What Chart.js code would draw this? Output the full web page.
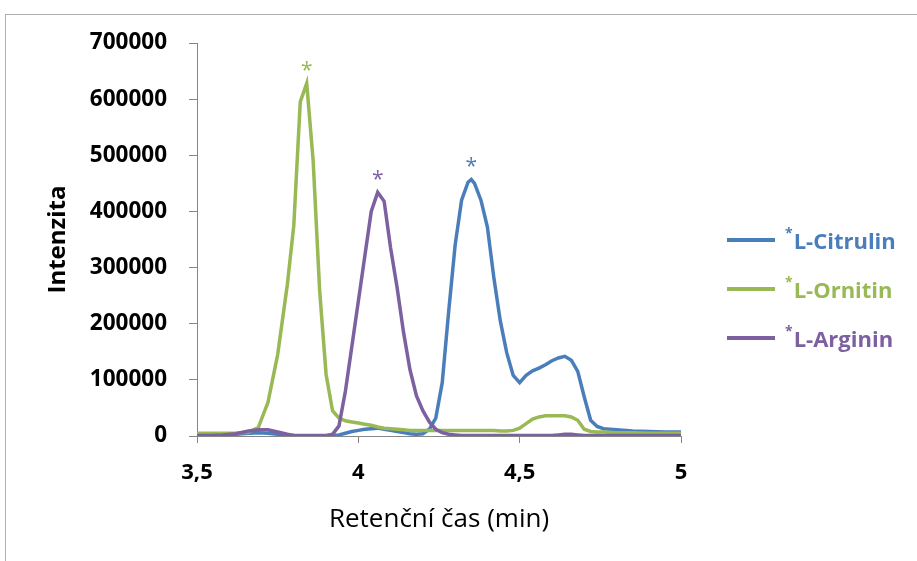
<!DOCTYPE html>
<html>
<head>
<meta charset="utf-8">
<script src="https://cdn.jsdelivr.net/npm/chart.js@4"></script>
<style>
    html, body { margin: 0; padding: 0; background: #fff; }
    body { width: 917px; height: 561px; position: relative; overflow: hidden; font-family: 'Open Sans', sans-serif; }
    .chart-frame { position: absolute; left: 5px; top: 14px; width: 940px; height: 600px; border: 1px solid #b0b0b0; }
    .chart-wrap { position: absolute; left: 0; top: 0; width: 917px; height: 561px; }
    .legend { position: absolute; left: 727px; top: 225px; }
    .legend-item { display: flex; align-items: center; height: 30px; margin-bottom: 19px; font-weight: 700; font-size: 22px; white-space: nowrap; }
    .legend-line { display: inline-block; width: 48px; height: 4px; margin-right: 10px; }
    .legend-item sup { font-size: 14px; position: relative; top: -3px; margin-right: 1px; }
</style>
</head>
<body>
<div class="chart-frame"></div>
<div class="chart-wrap"><canvas id="chromCanvas"></canvas></div>
<div class="legend" id="chromLegend"></div>
<script>
// ==================== CHROMATOGRAM (L-Citrulin / L-Ornitin / L-Arginin) ====================
const times = [3.50, 3.54, 3.58, 3.62, 3.66, 3.69, 3.72, 3.75, 3.78, 3.80,
    3.82, 3.84, 3.86, 3.88, 3.90, 3.92, 3.94, 3.96, 3.98, 4.00,
    4.02, 4.04, 4.06, 4.08, 4.10, 4.12, 4.14, 4.16, 4.18, 4.20,
    4.22, 4.24, 4.26, 4.28, 4.30, 4.32, 4.34, 4.35, 4.36, 4.38,
    4.40, 4.42, 4.44, 4.46, 4.48, 4.50, 4.52, 4.54, 4.56, 4.58,
    4.60, 4.62, 4.64, 4.66, 4.68, 4.70, 4.72, 4.74, 4.76, 4.80,
    4.85, 4.90, 4.95, 5.00];

const citrulin = [1000, 1000, 2000, 3000, 5000, 6000, 5000, 3000, 1000, 1000,
    1000, 1000, 1000, 1000, 1000, 1000, 2000, 5000, 8000, 10000,
    12000, 13000, 14000, 12000, 10000, 8000, 6000, 4000, 3000, 4000,
    12000, 32000, 95000, 222000, 340000, 420000, 452000, 457000, 450000, 420000,
    372000, 282000, 205000, 148000, 108000, 95000, 108000, 116000, 121000, 127000,
    134000, 139000, 142000, 135000, 115000, 70000, 28000, 17000, 13000, 11000,
    9000, 8000, 7000, 7000];

const ornitin = [5000, 5000, 5000, 5000, 7000, 15000, 60000, 145000, 270000, 375000,
    595000, 628000, 490000, 260000, 110000, 45000, 32000, 27000, 25000, 23000,
    21000, 19000, 16000, 14000, 13000, 12000, 11000, 10000, 10000, 10000,
    10000, 10000, 10000, 10000, 10000, 10000, 10000, 10000, 10000, 10000,
    10000, 10000, 9000, 9000, 10000, 14000, 22000, 30000, 34000, 36000,
    36000, 36000, 36000, 34000, 28000, 12000, 8000, 7000, 7000, 6000,
    6000, 5000, 5000, 5000];

const arginin = [1000, 1000, 2000, 4000, 9000, 11000, 11000, 7000, 3000, 1000,
    500, 500, 500, 500, 500, 3000, 18000, 80000, 160000, 240000,
    320000, 400000, 434000, 418000, 335000, 265000, 185000, 118000, 72000, 45000,
    25000, 12000, 6000, 3000, 2000, 1000, 1000, 1000, 1000, 1000,
    1000, 1000, 1000, 1000, 1000, 1000, 1000, 1000, 1000, 1000,
    1000, 2000, 3000, 3000, 2000, 1000, 1000, 1000, 1000, 1000,
    1000, 1000, 1000, 1000];

const seriesNames = ['L-Citrulin', 'L-Ornitin', 'L-Arginin'];
const seriesValues = [citrulin, ornitin, arginin];
const seriesColors = ['#4a7ebb', '#98b954', '#7d60a0'];

const xTicks = [3.5, 4, 4.5, 5];
const yMax = 700000;
const yStep = 100000;

const FONT = "'Open Sans', sans-serif";
const AXIS_COLOR = '#868686';

// asterisk above each peak
const peakStarPlugin = {
    id: 'peakStar',
    afterDatasetsDraw(chart) {
        const ctx = chart.ctx;
        ctx.save();
        ctx.font = '21px ' + FONT;
        ctx.textAlign = 'center';
        ctx.textBaseline = 'middle';
        chart.data.datasets.forEach((ds, di) => {
            const meta = chart.getDatasetMeta(di);
            let best = 0;
            ds.data.forEach((p, i) => { if (p.y > ds.data[best].y) best = i; });
            const pt = meta.data[best];
            ctx.fillStyle = ds.borderColor;
            ctx.fillText('*', pt.x, pt.y - 12);
        });
        ctx.restore();
    }
};

const datasets = seriesNames.map((name, i) => ({
    label: '*' + name,
    data: times.map((t, j) => ({ x: t, y: seriesValues[i][j] })),
    borderColor: seriesColors[i],
    backgroundColor: seriesColors[i],
    borderWidth: 3.5,
    pointRadius: 0,
    tension: 0,
    fill: false,
    order: seriesNames.length - i
}));

const legend = document.getElementById('chromLegend');
legend.innerHTML = seriesNames.map((name, i) => `
    <div class="legend-item" style="color:${seriesColors[i]};">
        <span class="legend-line" style="background:${seriesColors[i]};"></span>
        <span><sup>*</sup>${name}</span>
    </div>`).join('');

const ctx = document.getElementById('chromCanvas').getContext('2d');
window.chromChart = new Chart(ctx, {
    type: 'line',
    data: { datasets: datasets },
    plugins: [peakStarPlugin],
    options: {
        responsive: true,
        maintainAspectRatio: false,
        animation: false,
        layout: { padding: { top: 43, right: 236, left: 0, bottom: 0 } },
        plugins: {
            legend: { display: false },
            tooltip: { enabled: false }
        },
        scales: {
            x: {
                type: 'linear',
                min: 3.5,
                max: 5,
                afterFit: s => { s.height = 125; },
                afterBuildTicks: s => { s.ticks = xTicks.map(v => ({ value: v })); },
                border: { color: AXIS_COLOR, width: 1 },
                grid: { display: true, drawOnChartArea: false, drawTicks: true, tickLength: 7, color: AXIS_COLOR },
                ticks: {
                    padding: 17,
                    color: '#000',
                    maxRotation: 0,
                    font: { family: FONT, size: 22, weight: '700' },
                    callback: v => String(v).replace('.', ',')
                },
                title: {
                    display: true,
                    text: 'Retenční čas (min)',
                    color: '#000',
                    font: { family: FONT, size: 26, weight: '400' },
                    padding: { top: 0, bottom: 26 }
                }
            },
            y: {
                min: 0,
                max: yMax,
                afterFit: s => { s.width = 197; },
                border: { color: AXIS_COLOR, width: 1 },
                grid: { display: true, drawOnChartArea: false, drawTicks: true, tickLength: 8, color: AXIS_COLOR },
                ticks: {
                    stepSize: yStep,
                    padding: 22,
                    color: '#000',
                    font: { family: FONT, size: 22.5, weight: '700' },
                    callback: v => String(v)
                },
                title: {
                    display: true,
                    text: 'Intenzita',
                    color: '#000',
                    font: { family: FONT, size: 24, weight: '700' },
                    padding: { top: 44, bottom: 0 }
                }
            }
        }
    }
});
</script>
</body>
</html>
